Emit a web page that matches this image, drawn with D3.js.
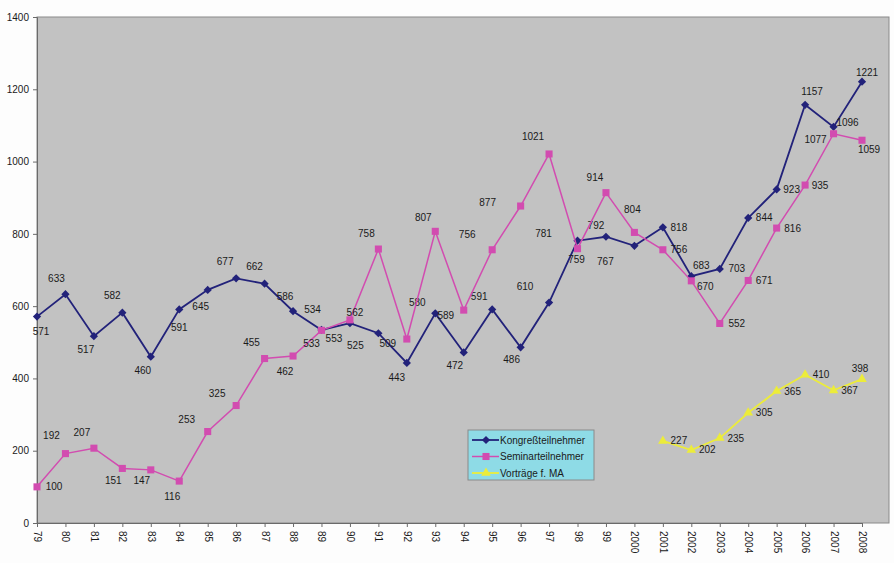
<!DOCTYPE html>
<html>
<head>
<meta charset="utf-8">
<script src="https://cdn.jsdelivr.net/npm/d3@7"></script>
<style>
  html, body { margin: 0; padding: 0; background: #fdfdfd; }
  svg { display: block; font-family: "Liberation Sans", Arial, sans-serif; }
</style>
</head>
<body>
<svg id="chart" width="894" height="563"></svg>
<script>
// Jahre (Kategorien der x-Achse)
const years = ["79","80","81","82","83","84","85","86","87","88","89","90","91","92","93","94","95","96","97","98","99",
               "2000","2001","2002","2003","2004","2005","2006","2007","2008"];

// Teilnehmerzahlen je Jahr
const kongress = [571,633,517,582,460,591,645,677,662,586,534,553,525,443,580,472,591,486,610,781,792,767,818,683,703,844,923,1157,1096,1221];
const seminar  = [100,192,207,151,147,116,253,325,455,462,533,562,758,509,807,589,756,877,1021,759,914,804,756,670,552,671,816,935,1077,1059];
const vortraege = [null,null,null,null,null,null,null,null,null,null,null,null,null,null,null,null,null,null,null,null,null,
                   null,227,202,235,305,365,410,367,398];

const yTicks = [0,200,400,600,800,1000,1200,1400];

// Lage der Wertbeschriftungen relativ zum Punkt (dx, dy)
const kongressLabelPos = [[4,15],[-9,-16],[-8,13],[-10,-17],[-8,14],[0,18],[-7,17],[-11,-17],[-10,-17],[-8,-15],
  [-9,-20],[-16,15],[-23,12],[-10,15],[-18,-11],[-9,13],[-13,-13],[-9,12],[-24,-16],[-34,-7],
  [-10,-11],[-29,16],[16,0],[10,-11],[17,0],[16,0],[15,0],[7,-13],[14,-4],[5,-9]];
const seminarLabelPos = [[17,0],[-14,-18],[-12,-16],[-9,12],[-9,11],[-7,15],[-21,-12],[-19,-12],[-13,-16],[-8,15],
  [-10,13],[5,-7],[-12,-16],[-19,4],[-12,-14],[-18,5],[-25,-15],[-33,-4],[-16,-17],[-1,11],
  [-11,-15],[-2,-23],[16,0],[14,6],[17,0],[16,0],[16,0],[15,0],[-18,6],[7,9]];
const vortraegeLabelPos = years.map((d, i) => i === 29 ? [-2,-11] : [16,0]);

// Raute als um 45° gedrehtes Quadrat
const squareDiamond = {
  draw(context, size) {
    const r = Math.sqrt(size / 2);
    context.moveTo(0, -r);
    context.lineTo(r, 0);
    context.lineTo(0, r);
    context.lineTo(-r, 0);
    context.closePath();
  }
};

const series = [
  { name: "Kongreßteilnehmer", values: kongress, color: "#22227a", marker: squareDiamond, size: 34, width: 1.8, labels: kongressLabelPos },
  { name: "Seminarteilnehmer", values: seminar, color: "#d24cb0", marker: d3.symbolSquare, size: 50, width: 1.5, labels: seminarLabelPos },
  { name: "Vorträge f. MA", values: vortraege, color: "#ecec3a", marker: d3.symbolTriangle, size: 40, width: 1.8, labels: vortraegeLabelPos }
];

const svg = d3.select("#chart");
const plot = { left: 37, top: 17, right: 889, bottom: 523 };

const x = d3.scalePoint().domain(years).range([plot.left, 862]);
const y = d3.scaleLinear().domain([0, 1400]).range([plot.bottom, plot.top]);

// Zeichenfläche
svg.append("rect")
  .attr("x", plot.left).attr("y", plot.top)
  .attr("width", plot.right - plot.left).attr("height", plot.bottom - plot.top)
  .attr("fill", "#c2c2c2").attr("stroke", "#8a8a8a").attr("stroke-width", 1);

// y-Achse
const yAxis = svg.append("g")
  .attr("transform", `translate(${plot.left},0)`)
  .call(d3.axisLeft(y).tickValues(yTicks).tickFormat(d3.format("d")).tickSize(4).tickPadding(4));
yAxis.select(".domain").attr("stroke", "#6a6a6a");
yAxis.selectAll(".tick line").attr("stroke", "#6a6a6a");
yAxis.selectAll(".tick text").attr("font-size", 10).attr("fill", "#1a1a1a")
  .attr("font-family", "Liberation Sans, Arial, sans-serif");

// x-Achse mit senkrechten Jahreszahlen
const xAxis = svg.append("g")
  .attr("transform", `translate(0,${plot.bottom})`)
  .call(d3.axisBottom(x).tickSize(4).tickPadding(0));
xAxis.select(".domain").attr("stroke", "#6a6a6a");
xAxis.selectAll(".tick line").attr("stroke", "#6a6a6a");
xAxis.selectAll(".tick text")
  .attr("font-size", 10).attr("fill", "#1a1a1a")
  .attr("font-family", "Liberation Sans, Arial, sans-serif")
  .attr("transform", "rotate(90)")
  .attr("text-anchor", "start")
  .attr("x", 8).attr("y", 0).attr("dy", "0.35em");

// Linien, Marker und Werte
const line = d3.line()
  .defined(d => d != null)
  .x((d, i) => x(years[i]))
  .y(d => y(d));

series.forEach(s => {
  const g = svg.append("g");
  g.append("path")
    .datum(s.values)
    .attr("fill", "none")
    .attr("stroke", s.color)
    .attr("stroke-width", s.width)
    .attr("d", line);

  const pts = s.values.map((v, i) => ({ v, i })).filter(d => d.v != null);

  g.selectAll("path.marker")
    .data(pts).enter().append("path")
    .attr("class", "marker")
    .attr("d", d3.symbol().type(s.marker).size(s.size))
    .attr("transform", d => `translate(${x(years[d.i])},${y(d.v)})`)
    .attr("fill", s.color);

  g.selectAll("text.value")
    .data(pts).enter().append("text")
    .attr("class", "value")
    .attr("x", d => x(years[d.i]) + s.labels[d.i][0])
    .attr("y", d => y(d.v) + s.labels[d.i][1])
    .attr("dy", "0.35em")
    .attr("text-anchor", "middle")
    .attr("font-size", 10)
    .attr("fill", "#1a1a1a")
    .text(d => d.v);
});

// Legende
const legend = svg.append("g").attr("transform", "translate(468,430)");
legend.append("rect")
  .attr("width", 126).attr("height", 50)
  .attr("fill", "#8edbe6").attr("stroke", "#8a8a8a").attr("stroke-width", 1);
series.forEach((s, i) => {
  const row = legend.append("g").attr("transform", `translate(0,${10 + i * 16.5})`);
  row.append("line").attr("x1", 4).attr("x2", 31).attr("y1", 0).attr("y2", 0)
    .attr("stroke", s.color).attr("stroke-width", s.width);
  row.append("path").attr("d", d3.symbol().type(s.marker).size(s.size))
    .attr("transform", "translate(18,0)").attr("fill", s.color);
  row.append("text").attr("x", 32).attr("y", 0).attr("dy", "0.35em")
    .attr("font-size", 10).attr("fill", "#1a1a1a").text(s.name);
});
</script>
</body>
</html>
